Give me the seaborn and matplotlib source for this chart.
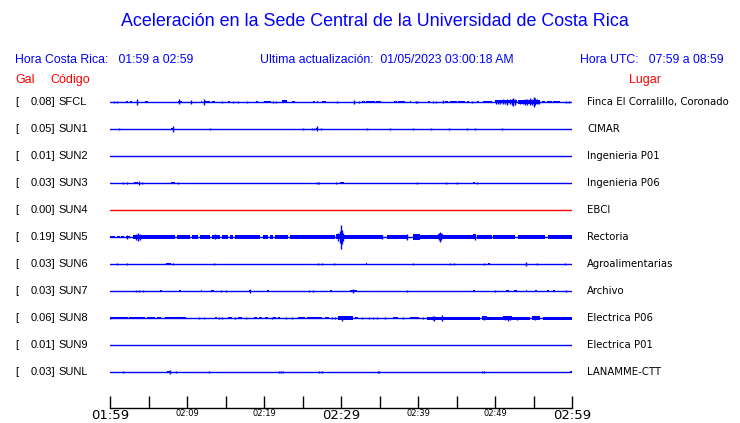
import pandas as pd
import matplotlib
matplotlib.use("Agg")
import matplotlib.pyplot as plt
import seaborn as sns

# --- data -------------------------------------------------------------
CODES = ["SFCL", "SUN1", "SUN2", "SUN3", "SUN4", "SUN5", "SUN6", "SUN7", "SUN8", "SUN9", "SUNL"]
GAL = [0.08, 0.05, 0.01, 0.03, 0.00, 0.19, 0.03, 0.03, 0.06, 0.01, 0.03]
LUGAR = ["Finca El Corralillo, Coronado", "CIMAR", "Ingenieria P01", "Ingenieria P06", "EBCI",
         "Rectoria", "Agroalimentarias", "Archivo", "Electrica P06", "Electrica P01", "LANAMME-CTT"]
TRACE_COLORS = ["#0000ff", "#0000ff", "#0000ff", "#0000ff", "#ff0000", "#0000ff",
                "#0000ff", "#0000ff", "#0000ff", "#0000ff", "#0000ff"]

# minutes after 01:59 (window of one hour)
WINDOW = [0, 60]
TICK_MIN = [0, 5, 10, 15, 20, 25, 30, 35, 40, 45, 50, 55, 60]
TICK_LABELS = ["01:59", "", "02:09", "", "02:19", "", "02:29", "", "02:39", "", "02:49", "", "02:59"]
BIG_TICKS = ["01:59", "02:29", "02:59"]

# spikes: (minute, half amplitude) ; blocks: (start minute, end minute, half amplitude)
SFCL_SPIKES = [(0.56, 1.3), (0.95, 1.3), (3.51, 3.3), (8.96, 2.5), (10.52, 2.3), (12.17, 2.7),
               (14.51, 1.2), (15.94, 1.2), (16.66, 1.2), (17.75, 1.2), (21.13, 1.3), (21.52, 1.3),
               (29.52, 1.0), (31.73, 2.0), (32.38, 1.3), (39.74, 1.3), (39.91, 1.3), (41.90, 1.3),
               (42.29, 1.3), (43.29, 1.5), (46.97, 1.3), (50.1, 1.8), (50.4, 2.2), (50.7, 2.0),
               (51.0, 2.5), (51.3, 2.2), (51.6, 3.0), (51.9, 2.5), (52.15, 3.2), (52.4, 4.0),
               (52.65, 2.6), (53.3, 2.0), (53.6, 2.4), (53.9, 3.0), (54.2, 2.8), (54.5, 3.5),
               (54.75, 3.2), (55.0, 5.0), (55.25, 3.5), (55.5, 2.5), (55.75, 1.8), (59.22, 1.3),
               (59.65, 1.3)]
SFCL_BLOCKS = [(2.04, 2.30, 1.3), (2.60, 2.82, 1.3), (4.55, 4.90, 1.4), (8.79, 9.39, 1.4),
               (11.78, 11.99, 1.3), (12.34, 12.99, 1.3), (13.29, 13.64, 1.4), (15.36, 15.58, 1.2),
               (18.92, 19.26, 1.4), (20.04, 20.87, 1.4), (22.30, 22.95, 1.5), (23.68, 24.03, 1.4),
               (26.40, 26.62, 1.3), (26.84, 27.05, 1.3), (27.57, 28.01, 1.4), (32.73, 33.07, 1.3),
               (33.25, 34.37, 1.4), (34.55, 35.15, 1.3), (36.88, 37.23, 1.3), (37.45, 38.35, 1.3),
               (38.92, 39.13, 1.3), (41.34, 41.56, 1.3), (43.51, 43.94, 1.3), (44.16, 45.02, 1.4),
               (45.24, 46.10, 1.3), (46.32, 46.67, 1.3), (47.62, 47.97, 1.3), (48.49, 49.57, 1.3),
               (50.0, 52.81, 1.5), (53.03, 55.84, 1.6), (56.06, 56.49, 1.2), (56.71, 57.36, 1.3),
               (57.57, 58.44, 1.3)]

SUN1_SPIKES = [(1.21, 1.0), (8.14, 3.3), (13.03, 0.8), (25.11, 0.8), (26.28, 1.0), (26.54, 1.0),
               (26.93, 2.5), (27.40, 0.8), (33.42, 1.3), (36.4, 0.7), (39.39, 1.3), (41.73, 1.3),
               (44.07, 1.3), (46.40, 1.3), (47.45, 1.3), (50.95, 1.3)]
SUN1_BLOCKS = [(7.92, 8.35, 1.3), (26.71, 27.05, 1.3)]

SUN2_SPIKES = []
SUN2_BLOCKS = []

SUN3_SPIKES = [(1.73, 1.0), (2.25, 1.0), (3.72, 2.3), (4.20, 1.0), (8.79, 1.2), (26.84, 1.3),
               (27.14, 1.3), (29.4, 1.0), (39.83, 1.2), (43.64, 0.7), (45.1, 0.7), (47.71, 1.2)]
SUN3_BLOCKS = [(3.16, 3.68, 1.4), (7.92, 8.44, 1.4), (29.87, 30.43, 1.4), (47.1, 47.36, 1.3)]

SUN4_SPIKES = []
SUN4_BLOCKS = []

SUN5_SPIKES = [(2.2, 2.0), (3.4, 3.0), (3.68, 4.0), (3.85, 3.0), (13.64, 2.5), (29.6, 4.0),
               (29.85, 6.0), (30.0, 12.0), (30.15, 7.0), (30.3, 4.0), (35.28, 2.2), (38.53, 2.7),
               (42.75, 3.5), (42.86, 5.0), (43.0, 3.5), (47.36, 2.7), (48.0, 1.2)]
SUN5_BLOCKS = [(0.0, 0.65, 1.2), (0.87, 1.30, 1.2), (1.43, 1.86, 1.2), (2.04, 2.30, 1.3),
               (2.38, 2.60, 1.2), (3.03, 4.03, 2.2), (4.03, 8.44, 1.7), (8.66, 10.39, 1.7),
               (10.61, 11.47, 1.7), (11.69, 12.99, 1.7), (13.2, 14.29, 1.7), (14.5, 15.36, 1.7),
               (15.58, 16.02, 1.7), (16.23, 19.48, 1.7), (19.91, 20.56, 1.7), (20.78, 21.21, 1.7),
               (21.43, 23.16, 1.7), (23.38, 29.22, 1.7), (29.35, 30.30, 2.5), (30.3, 35.06, 1.7),
               (35.06, 35.5, 2.0), (35.93, 38.31, 1.7), (38.31, 38.7, 2.3), (39.3, 40.26, 3.3),
               (40.26, 42.64, 1.7), (42.64, 43.29, 2.5), (43.29, 47.18, 1.7), (47.18, 47.5, 2.5),
               (47.62, 49.57, 1.7), (49.78, 52.6, 1.7), (53.03, 56.49, 1.7), (56.92, 60.0, 1.7)]

SUN6_SPIKES = [(0.87, 1.0), (2.17, 1.0), (8.18, 1.3), (13.55, 1.3), (27.05, 1.2), (27.57, 0.7),
               (29.13, 1.2), (39.39, 0.7), (44.16, 0.7), (44.72, 1.0), (48.57, 0.8), (53.99, 2.0),
               (55.5, 0.7), (59.13, 1.0)]
SUN6_BLOCKS = [(7.27, 7.92, 1.3), (33.25, 33.42, 1.3), (49.13, 49.35, 1.3)]

SUN7_SPIKES = [(3.38, 1.0), (3.81, 0.7), (4.33, 0.7), (14.42, 0.7), (15.02, 1.0), (18.14, 2.0),
               (25.88, 1.2), (26.36, 1.2), (31.6, 1.8), (38.53, 0.7), (50.0, 0.7), (59.22, 0.7)]
SUN7_BLOCKS = [(6.49, 6.71, 1.3), (8.96, 9.18, 1.3), (11.82, 11.99, 1.3), (13.12, 13.55, 1.4),
               (18.04, 18.24, 1.3), (20.43, 20.69, 1.4), (28.6, 28.8, 1.3), (31.17, 32.03, 1.3),
               (47.1, 47.36, 1.4), (51.43, 51.77, 1.3), (52.47, 52.81, 1.3), (54.03, 54.2, 1.3),
               (55.19, 55.41, 1.3), (56.71, 56.97, 1.3), (57.57, 57.83, 1.3)]

SUN8_SPIKES = [(0.0, 1.0), (11.6, 1.3), (12.2, 0.7), (14.2, 0.7), (14.6, 0.7), (16.2, 0.7),
               (17.6, 0.7), (21.0, 0.7), (22.9, 0.7), (23.7, 0.7), (28.8, 0.7), (29.2, 0.7),
               (30.09, 2.5), (32.7, 0.7), (33.7, 0.7), (34.1, 0.7), (34.7, 0.7), (35.7, 0.7),
               (38.1, 0.7), (40.6, 0.7), (41.9, 2.0), (42.1, 2.5), (43.07, 3.0), (48.57, 1.8),
               (51.3, 2.0), (51.64, 2.5), (51.9, 2.0), (52.9, 1.5), (55.19, 2.0)]
SUN8_BLOCKS = [(0.0, 2.38, 1.3), (2.47, 4.55, 1.3), (4.76, 5.84, 1.3), (6.06, 6.62, 1.3),
               (7.14, 9.87, 1.3), (13.64, 13.9, 1.3), (15.28, 15.8, 1.4), (16.66, 17.18, 1.4),
               (18.74, 19.05, 1.3), (19.35, 19.78, 1.3), (20.13, 20.56, 1.3), (21.21, 21.52, 1.3),
               (21.77, 22.08, 1.3), (24.46, 25.32, 1.3), (25.54, 27.49, 1.4), (27.92, 28.44, 1.3),
               (29.65, 31.6, 1.6), (31.82, 32.25, 1.3), (36.71, 37.45, 1.3), (38.96, 40.09, 1.3),
               (41.13, 42.86, 1.5), (42.86, 48.05, 1.5), (48.27, 48.92, 1.6), (48.92, 51.08, 1.5),
               (51.08, 52.16, 2.0), (52.16, 54.55, 1.5), (54.76, 55.84, 1.6), (56.28, 60.0, 1.5)]

SUN9_SPIKES = []
SUN9_BLOCKS = []

SUNL_SPIKES = [(1.73, 1.0), (7.8, 2.0), (8.61, 1.0), (12.9, 0.7), (21.99, 1.0), (22.21, 1.0),
               (22.51, 1.0), (27.19, 1.0), (27.49, 1.0), (34.76, 1.0), (34.97, 1.0), (48.36, 1.0),
               (48.57, 1.0)]
SUNL_BLOCKS = [(7.36, 7.92, 1.3), (59.74, 60.0, 1.3)]

SPIKES = [SFCL_SPIKES, SUN1_SPIKES, SUN2_SPIKES, SUN3_SPIKES, SUN4_SPIKES, SUN5_SPIKES,
          SUN6_SPIKES, SUN7_SPIKES, SUN8_SPIKES, SUN9_SPIKES, SUNL_SPIKES]
BLOCKS = [SFCL_BLOCKS, SUN1_BLOCKS, SUN2_BLOCKS, SUN3_BLOCKS, SUN4_BLOCKS, SUN5_BLOCKS,
          SUN6_BLOCKS, SUN7_BLOCKS, SUN8_BLOCKS, SUN9_BLOCKS, SUNL_BLOCKS]

# --- layout (pixels of a 740x423 canvas) -------------------------------
W, H = 740, 423
ROW = 27          # pixel spacing between traces
BLUE = "#0000ff"
RED = "#ff0000"

sns.set_style("white")
plt.rcParams["font.family"] = ["Liberation Sans", "DejaVu Sans"]
plt.rcParams["text.color"] = "black"
plt.rcParams["xtick.color"] = "black"

fig = plt.figure(figsize=(W / 100, H / 100), dpi=100)
ax = fig.add_axes([110 / W, (H - 408) / H, 462 / W, (408 - 90) / H])


def fx(px):
    return px / W


def fy(py):
    return 1 - py / H


# baselines
rows = []
for i, code in enumerate(CODES):
    for t in WINDOW:
        rows.append({"station": code, "minute": t, "offset": -ROW * i})
base = pd.DataFrame(rows)
sns.lineplot(data=base, x="minute", y="offset", hue="station", units="station",
             estimator=None, palette=dict(zip(CODES, TRACE_COLORS)), legend=False,
             linewidth=1.0, ax=ax)

# bursts
for i, code in enumerate(CODES):
    y0 = -ROW * i
    col = TRACE_COLORS[i]
    if BLOCKS[i]:
        b = pd.DataFrame(BLOCKS[i], columns=["start", "end", "amp"])
        ax.bar(b["start"], 2 * b["amp"], width=b["end"] - b["start"], bottom=y0 - b["amp"],
               align="edge", color=col, linewidth=0)
    if SPIKES[i]:
        s = pd.DataFrame(SPIKES[i], columns=["minute", "amp"])
        ax.vlines(s["minute"], y0 - s["amp"], y0 + s["amp"], color=col, linewidth=1.0)

ax.set_xlim(WINDOW[0], WINDOW[1])
ax.set_ylim(-(408 - 102), 102 - 90)
ax.set_yticks([])
ax.set_xlabel("")
ax.set_ylabel("")
for side in ["left", "top", "right"]:
    ax.spines[side].set_visible(False)
ax.spines["bottom"].set_color("black")
ax.spines["bottom"].set_linewidth(1.0)
ax.set_xticks(TICK_MIN)
ax.set_xticklabels(TICK_LABELS, family="DejaVu Sans", color="black")
ax.tick_params(axis="x", bottom=True, direction="in", length=9, width=1.0,
               color="black", pad=0.5)
for lab in ax.get_xticklabels():
    if lab.get_text() in BIG_TICKS:
        lab.set_fontsize(9.5)
    else:
        lab.set_fontsize(6)

# --- texts -------------------------------------------------------------
fig.text(fx(375), fy(22), "Aceleración en la Sede Central de la Universidad de Costa Rica",
         color=BLUE, fontsize=12.9, ha="center", va="center")
fig.text(fx(15), fy(60), "Hora Costa Rica:   01:59 a 02:59", color=BLUE, fontsize=8.8, va="center")
fig.text(fx(260), fy(60), "Ultima actualización:  01/05/2023 03:00:18 AM", color=BLUE,
         fontsize=8.8, va="center")
fig.text(fx(580), fy(60), "Hora UTC:   07:59 a 08:59", color=BLUE, fontsize=8.8, va="center")
fig.text(fx(15), fy(80), "Gal", color=RED, fontsize=9, va="center")
fig.text(fx(50), fy(80), "Código", color=RED, fontsize=9, va="center")
fig.text(fx(645), fy(80), "Lugar", color=RED, fontsize=9, va="center", ha="center")

for i, code in enumerate(CODES):
    yy = fy(102 + ROW * i)
    fig.text(fx(15), yy, "[", fontsize=8, va="center", color="black")
    fig.text(fx(55), yy, f"{GAL[i]:.2f}]", fontsize=8, va="center", ha="right", color="black")
    fig.text(fx(58), yy, code, fontsize=8, va="center", color="black")
    fig.text(fx(587), yy, LUGAR[i], fontsize=7.3, va="center", family="DejaVu Sans",
             color="black")

fig.savefig("out.png", dpi=100)
